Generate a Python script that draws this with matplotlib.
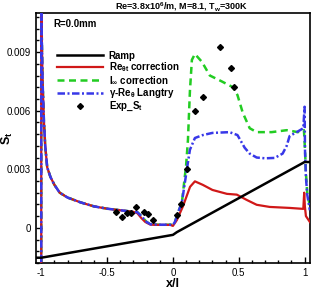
import numpy as np
import matplotlib
matplotlib.use('Agg')
import matplotlib.pyplot as plt

plt.rcParams['font.family'] = 'Liberation Sans'
plt.rcParams['font.weight'] = 'bold'
plt.rcParams['mathtext.fontset'] = 'custom'
plt.rcParams['mathtext.rm'] = 'Liberation Sans:bold'
plt.rcParams['mathtext.it'] = 'Liberation Sans:bold'
plt.rcParams['mathtext.bf'] = 'Liberation Sans:bold'

################# Data ################
# ramp surface (scaled)
ramp_x = [-1.04, -1.0, 0.0, 0.03, 1.0, 1.04]
ramp_y = [-0.00153, -0.00153, -0.00036, -0.00022, 0.00337, 0.00337]

# Re_theta_t correction
re_x = [-1.0, -1.0, -0.998, -0.99, -0.98, -0.97, -0.955, -0.93, -0.9, -0.86, -0.8, -0.7, -0.6, -0.5, -0.4, -0.3,
        -0.27, -0.24, -0.21, -0.17, -0.1, -0.02, 0.0, 0.01, 0.03, 0.076, 0.13, 0.167, 0.227, 0.30, 0.41,
        0.485, 0.56, 0.636, 0.735, 0.886, 0.99, 0.997, 1.002, 1.01, 1.04]
re_y = [-0.0025, 0.0120, 0.0105, 0.0075, 0.0055, 0.0042, 0.0031, 0.0026, 0.0022, 0.0018, 0.00155, 0.0013, 0.0011, 0.00098, 0.0009, 0.00082,
        0.00075, 0.0005, 0.0003, 0.00016, 0.00015, 0.00015, 0.0001, 0.0002, 0.0004, 0.0011, 0.0021, 0.00238, 0.0022, 0.00194, 0.00174,
        0.0017, 0.00143, 0.00118, 0.00107, 0.00102, 0.00097, 0.0018, 0.0011, 0.0006, 0.0003]

# I_inf correction
ii_x = [-1.0, -1.0, -0.998, -0.99, -0.98, -0.97, -0.955, -0.93, -0.9, -0.86, -0.8, -0.7, -0.6, -0.5, -0.4, -0.3,
        -0.27, -0.24, -0.2, -0.17, -0.1, -0.02, 0.0, 0.015, 0.038, 0.068, 0.1, 0.114, 0.129, 0.144, 0.167, 0.22,
        0.28, 0.37, 0.455, 0.49, 0.53, 0.583, 0.636, 0.75, 0.864, 0.95, 0.995, 1.003, 1.01, 1.02, 1.04]
ii_y = [-0.0025, 0.0120, 0.0105, 0.0075, 0.0055, 0.0042, 0.0031, 0.0026, 0.0022, 0.0018, 0.00155, 0.0013, 0.0011, 0.00098, 0.0009, 0.00082,
        0.0008, 0.0006, 0.0003, 0.00018, 0.00016, 0.00016, 0.00015, 0.0003, 0.00077, 0.0013, 0.0032, 0.0045, 0.0070, 0.0086, 0.0089, 0.0085,
        0.0078, 0.0075, 0.0072, 0.0068, 0.0059, 0.0051, 0.0049, 0.0049, 0.0050, 0.0049, 0.0050, 0.0040, 0.0028, 0.0018, 0.0011]

# gamma-Re_theta Langtry
gl_x = [-1.0, -1.0, -0.998, -0.99, -0.98, -0.97, -0.955, -0.93, -0.9, -0.86, -0.8, -0.7, -0.6, -0.5, -0.4, -0.3,
        -0.27, -0.24, -0.2, -0.17, -0.1, -0.02, 0.0, 0.015, 0.038, 0.068, 0.106, 0.129, 0.167, 0.227, 0.30, 0.43,
        0.49, 0.545, 0.583, 0.636, 0.70, 0.773, 0.833, 0.864, 0.886, 0.94, 0.99, 1.0, 1.003, 1.01, 1.02, 1.04]
gl_y = [-0.0025, 0.0120, 0.0105, 0.0075, 0.0055, 0.0042, 0.0031, 0.0026, 0.0022, 0.0018, 0.00155, 0.0013, 0.0011, 0.00098, 0.0009, 0.00082,
        0.0008, 0.0006, 0.0003, 0.00018, 0.00016, 0.00016, 0.00015, 0.0003, 0.00077, 0.0013, 0.0030, 0.0040, 0.0046, 0.00475, 0.00486, 0.0049,
        0.00475, 0.0041, 0.0038, 0.0036, 0.00356, 0.00358, 0.0038, 0.0042, 0.0047, 0.0049, 0.0051, 0.0062, 0.0040, 0.0026, 0.0017, 0.0009]

# experiment
exp_x = [-0.43, -0.39, -0.35, -0.32, -0.28, -0.22, -0.19, -0.15, 0.03, 0.06, 0.11, 0.17, 0.23, 0.36, 0.44, 0.46]
exp_y = [0.00082, 0.00056, 0.00077, 0.00077, 0.00107, 0.00082, 0.00072, 0.00038, 0.00068, 0.0012, 0.0030, 0.0060, 0.0067, 0.00925, 0.0082, 0.0072]
#######################################################

fig = plt.figure(figsize=(3.13, 2.89), dpi=100)
ax = fig.add_axes([0.115, 0.090, 0.875, 0.865])

l_ii, = ax.plot(ii_x, ii_y, color='#22cc22', lw=1.8, dashes=(2.8, 1.8), zorder=2)
l_re, = ax.plot(re_x, re_y, color='#d01818', lw=1.6, zorder=3)
l_gl, = ax.plot(gl_x, gl_y, color='#3838e8', lw=1.8, dashes=(3.0, 1.0, 0.8, 1.0), zorder=4)
l_ramp, = ax.plot(ramp_x, ramp_y, color='k', lw=1.8, zorder=5)
l_exp, = ax.plot(exp_x, exp_y, 'D', color='k', ms=3, ls='none', zorder=6)

ax.set_xlim(-1.04, 1.04)
ax.set_ylim(-0.0018, 0.011)
ax.set_xticks([-1, -0.5, 0, 0.5, 1])
ax.set_xticklabels(['-1', '-0.5', '0', '0.5', '1'])
ax.set_xticks(np.arange(-1.0, 1.01, 0.1), minor=True)
ax.set_yticks([0, 0.003, 0.006, 0.009])
ax.set_yticklabels(['0', '0.003', '0.006', '0.009'])
ax.set_yticks(np.arange(-0.0018, 0.0109, 0.0006), minor=True)
ax.tick_params(which='both', direction='in', labelsize=7, width=1.0)
ax.tick_params(which='major', length=4)
ax.tick_params(which='minor', length=2)
for lab in ax.get_xticklabels() + ax.get_yticklabels():
    lab.set_fontweight('normal')
for sp in ax.spines.values():
    sp.set_linewidth(1.2)

ax.set_xlabel('x/l', fontsize=9, fontweight='bold', labelpad=0)
ax.set_ylabel('S$_t$', fontsize=9, fontweight='bold')
ax.yaxis.set_label_coords(-0.075, 0.5)
fig.text(0.58, 1 - 7 / 289, 'Re=3.8x10$^6$/m, M=8.1, T$_w$=300K', fontsize=6.5, fontweight='bold',
         ha='center', va='center')
ax.text(0.065, 0.975, 'R=0.0mm', transform=ax.transAxes, fontsize=7, fontweight='bold', va='top')

ax.legend([l_ramp, l_re, l_ii, l_gl, l_exp],
          ['Ramp', r'Re$_{\theta t}$ correction', r'I$_\infty$ correction', r'$\gamma$-Re$_\theta$ Langtry', 'Exp_S$_t$'],
          loc='upper left', bbox_to_anchor=(0.077, 0.85), frameon=False,
          handlelength=4.7, handletextpad=0.6, labelspacing=0.0, borderpad=0, borderaxespad=0,
          prop={'weight': 'bold', 'size': 7})

fig.savefig('out.png', dpi=100)
